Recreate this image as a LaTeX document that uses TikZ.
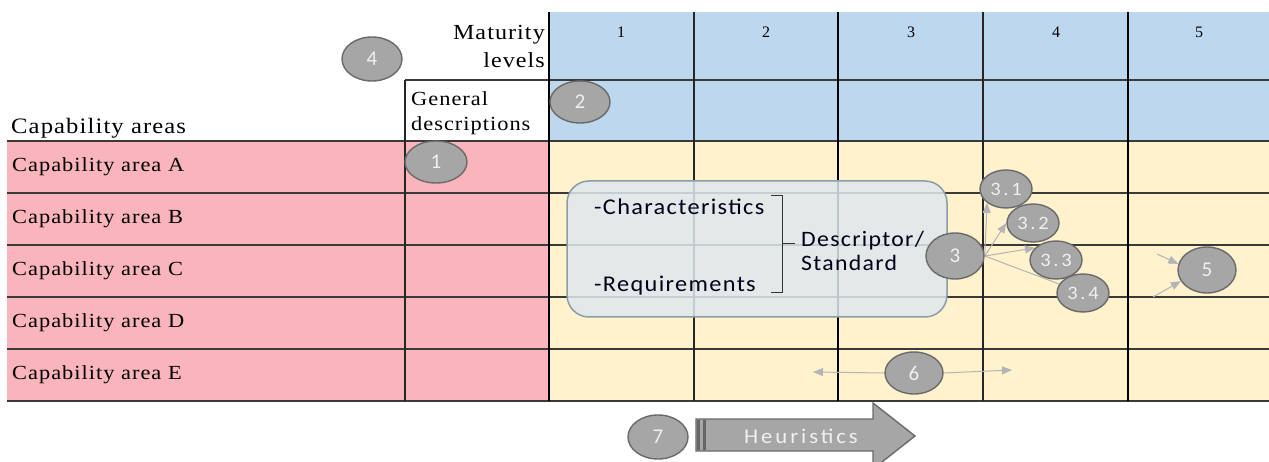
\documentclass[tikz,border=0pt]{standalone}
\usepackage{fontspec}
\setmainfont{Liberation Serif}
\newfontfamily\serifwide[FakeStretch=1.12, LetterSpace=5]{Liberation Serif}
\newfontfamily\calibri{Carlito}
\newfontfamily\calibriwide[FakeStretch=1.08, LetterSpace=6]{Carlito}
\newfontfamily\calibrispaced[FakeStretch=1.08, LetterSpace=14]{Carlito}
\usetikzlibrary{shapes.geometric,arrows.meta}
\pgfdeclarelayer{grid}
\pgfdeclarelayer{links}
\pgfsetlayers{grid,links,main}

\definecolor{hdrblue}{HTML}{BDD7EE}
\definecolor{areapink}{HTML}{FAB4BC}
\definecolor{cellyellow}{HTML}{FFF2CC}
\definecolor{bubblefill}{HTML}{A6A6A6}
\definecolor{bubbleline}{HTML}{6A6A6A}
\definecolor{boxfill}{HTML}{DFE7EE}
\definecolor{boxline}{HTML}{8E9BA8}
\definecolor{linkgray}{HTML}{B4B4B4}
\definecolor{rulegray}{HTML}{3A3A3A}

\tikzset{
  rowline/.style={draw=rulegray, line width=1.2pt},
  thincol/.style={draw=black!85, line width=1.3pt},
  thickcol/.style={draw=black, line width=2.2pt},
  serif/.style={font=\serifwide\fontsize{20}{22}\selectfont, text=black, inner sep=0pt},
  bubble/.style={ellipse, fill=bubblefill, draw=bubbleline, line width=1.4pt, inner sep=0pt,
    text=white!94!black, font=\calibri\fontsize{21}{22}\selectfont},
  subbubble/.style={bubble, minimum width=52pt, minimum height=38pt, font=\calibrispaced\fontsize{19}{22}\selectfont},
  link/.style={draw=linkgray, line width=1pt, -{Triangle[length=10pt,width=8pt]}},
  boxtext/.style={font=\calibriwide\fontsize{22.5}{24}\selectfont, text=black!90!blue, inner sep=0pt},
}

\begin{document}
\begin{tikzpicture}[x=1pt,y=-1pt]
\useasboundingbox (0,0) rectangle (1269,462);

\begin{pgfonlayer}{grid}
  % coloured blocks of the matrix
  \fill[hdrblue] (549,12) rectangle (1269,141);
  \fill[areapink] (7,141) rectangle (549,401);
  \fill[cellyellow] (549,141) rectangle (1269,401);
  % row rules
  \foreach \y in {141,193,245,297,349,401}
    \draw[rowline] (7,\y) -- (1269,\y);
  \draw[rowline] (405,80) -- (1269,80);
  % column rules
  \draw[thincol] (405,80) -- (405,401);
  \foreach \x in {694,983}
    \draw[thincol] (\x,12) -- (\x,401);
  \foreach \x in {549,838,1128}
    \draw[thickcol] (\x,12) -- (\x,401);
  % descriptor panel
  \draw[fill=boxfill, fill opacity=0.85, draw=boxline, line width=1.5pt, rounded corners=22pt]
    (567,181) rectangle (947,317);
\end{pgfonlayer}

% headings
\node[serif, font=\serifwide\fontsize{21.5}{28}\selectfont, align=right, anchor=east]
  (maturity) at (545,46) {Maturity\\levels};
\foreach \n/\x in {1/621,2/766,3/911,4/1056,5/1199}
  \node[serif, font=\fontsize{16}{18}\selectfont] (lvl\n) at (\x,32) {\n};
\node[serif, font=\serifwide\fontsize{20}{25}\selectfont, align=left, anchor=north west]
  (gendesc) at (411,91) {General\\descriptions};
\node[serif, font=\serifwide\fontsize{22}{22}\selectfont, anchor=base west]
  (caphead) at (11,134) {Capability areas};
\foreach \l/\y in {A/167,B/219,C/271,D/323,E/375}
  \node[serif, anchor=west] (area\l) at (12,\y) {Capability area \l};

% descriptor panel contents
\node[boxtext, anchor=west] (chars) at (594,207) {-Characteristics};
\node[boxtext, anchor=west] (reqs) at (594,286) {-Requirements};
\draw[black!80, line width=1pt] (771,196) -- (782,196) -- (782,293) -- (771,293);
\draw[black!80, line width=1pt] (782,244) -- (795,244);
\node[boxtext, font=\calibriwide\fontsize{22}{24}\selectfont, align=left, anchor=west]
  (descr) at (801,251) {Descriptor/\\Standard};

% numbered markers
\node[bubble, minimum width=62pt, minimum height=42pt] (n1) at (436,162) {1};
\node[bubble, minimum width=60pt, minimum height=42pt] (n2) at (580,102) {2};
\node[bubble, minimum width=60pt, minimum height=44pt] (n4) at (372,59) {4};
\node[bubble, minimum width=58pt, minimum height=46pt] (n3) at (955,256) {3};
\node[subbubble] (n31) at (1006,189) {3.1};
\node[subbubble] (n32) at (1033,223) {3.2};
\node[subbubble] (n33) at (1056,260) {3.3};
\node[subbubble] (n34) at (1083,293) {3.4};
\node[bubble, minimum width=58pt, minimum height=46pt] (n5) at (1207,270) {5};
\node[bubble, minimum width=58pt, minimum height=42pt] (n6) at (914,373) {6};
\node[bubble, minimum width=60pt, minimum height=44pt] (n7) at (658,437) {7};

% free ends of the connectors
\coordinate (six-l) at (813,372);
\coordinate (six-r) at (1012,370);
\coordinate (five-a) at (1157,254);
\coordinate (five-b) at (1153,297);

\begin{pgfonlayer}{links}
  \draw[link] (n3.east) -- (n31.south west);
  \draw[link] (n3.east) -- (n32.west);
  \draw[link] (n3.east) -- (n33.150);
  \draw[link] (n3.east) -- (n34.center);
  \draw[link] (n6.west) -- (six-l);
  \draw[link] (n6.east) -- (six-r);
  \draw[link] (five-a) -- (n5.168);
  \draw[link] (five-b) -- (n5.203);
\end{pgfonlayer}

% heuristics arrow
\draw[fill=bubblefill, draw=bubbleline, line width=1.4pt, line join=miter]
  (696,419) -- (873,419) -- (873,403) -- (915,436) -- (873,469) -- (873,451) -- (696,451) -- cycle;
\fill[black!60] (697,420) rectangle (700,450);
\fill[black!60] (703,420) rectangle (706,450);
\node[font=\calibrispaced\fontsize{21}{22}\selectfont, text=white!94!black]
  (heur) at (801,436) {Heuristics};

\end{tikzpicture}
\end{document}
